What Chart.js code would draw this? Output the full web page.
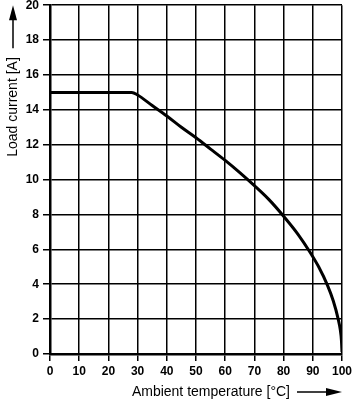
<!DOCTYPE html>
<html>
<head>
<meta charset="utf-8">
<script src="https://cdn.jsdelivr.net/npm/chart.js@4"></script>
<style>
  html, body { margin: 0; padding: 0; background: #fff; overflow: hidden; }
  #wrap { width: 359px; height: 414px; margin-top: -6px; }
</style>
</head>
<body>
<div id="wrap"><canvas id="derating"></canvas></div>
<script>
// derating curve
const temps   = [0, 28, 30, 35, 40, 45, 50, 55, 60, 65, 70, 75, 80, 85, 89, 92, 95, 97, 98.7, 99.4, 99.8, 100];
const current = [15, 15, 14.85, 14.25, 13.65, 13.0, 12.4, 11.75, 11.1, 10.4, 9.65, 8.85, 7.9, 6.85, 5.85, 5.0, 3.95, 3.05, 2.0, 1.4, 0.8, 0.1];
const xTitle = 'Ambient temperature [°C]';
const yTitle = 'Load current [A]';

const pts = temps.map((t, i) => ({ x: t, y: current[i] }));
const tickFont = { family: 'Liberation Sans, Arial, sans-serif', size: 12, weight: 'bold' };

// axis titles with arrows
const titles = {
  id: 'titles',
  afterDraw(chart) {
    const c = chart.ctx;
    const a = chart.chartArea;
    c.save();
    c.fillStyle = '#000';
    c.strokeStyle = '#000';
    c.font = '14px Liberation Sans, Arial, sans-serif';
    c.textBaseline = 'middle';
    c.lineWidth = 1.5;
    // x title
    const xy = a.bottom + 38;
    c.textAlign = 'right';
    c.fillText(xTitle, 290, xy);
    c.beginPath(); c.moveTo(297, xy); c.lineTo(330, xy); c.stroke();
    c.beginPath(); c.moveTo(a.right, xy); c.lineTo(326, xy - 4); c.lineTo(326, xy + 4); c.closePath(); c.fill();
    // y title
    c.translate(a.left - 37, a.top);
    c.rotate(-Math.PI / 2);
    c.fillText(yTitle, -52, 0);
    c.beginPath(); c.moveTo(-43, 0); c.lineTo(-10, 0); c.stroke();
    c.beginPath(); c.moveTo(0, 0); c.lineTo(-15, -4); c.lineTo(-15, 4); c.closePath(); c.fill();
    c.restore();
  }
};

new Chart(document.getElementById('derating'), {
  type: 'scatter',
  data: {
    datasets: [{
      data: pts,
      showLine: true,
      borderColor: '#000',
      borderWidth: 3,
      pointRadius: 0,
      cubicInterpolationMode: 'monotone'
    }]
  },
  options: {
    responsive: true,
    maintainAspectRatio: false,
    animation: false,
    layout: { padding: { top: 0, right: 17, left: 0, bottom: 0 } },
    plugins: { legend: { display: false }, tooltip: { enabled: false } },
    scales: {
      x: {
        type: 'linear', min: 0, max: 100,
        afterFit: s => { s.height = 54; },
        border: { color: '#000', width: 2.5 },
        grid: { color: '#000', lineWidth: 1.5, tickLength: 7, tickColor: '#000' },
        ticks: { stepSize: 10, color: '#000', font: tickFont, padding: 3, maxRotation: 0 }
      },
      y: {
        min: 0, max: 20,
        afterFit: s => { s.width = 50; },
        border: { color: '#000', width: 2.5 },
        grid: { color: '#000', lineWidth: 1.5, tickLength: 7, tickColor: '#000' },
        ticks: { stepSize: 2, color: '#000', font: tickFont, padding: 4 }
      }
    }
  },
  plugins: [titles]
});
</script>
</body>
</html>
